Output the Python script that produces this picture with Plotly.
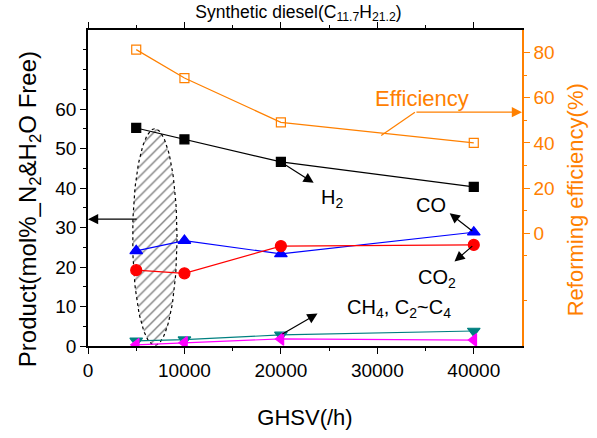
import numpy as np
import plotly.graph_objects as go

ghsv = [5000, 10000, 20000, 40000]
h2 = [55.2, 52.3, 46.6, 40.3]
co = [24.1, 26.7, 23.3, 28.8]
co2 = [19.2, 18.4, 25.3, 25.6]
ch4 = [1.3, 1.6, 2.8, 3.8]
c2c4 = [0.3, 0.8, 1.8, 1.5]
efficiency = [81.3, 68.7, 49.1, 40.0]

x_ticks = [0, 10000, 20000, 30000, 40000]
y_ticks = [0, 10, 20, 30, 40, 50, 60]
y2_ticks = [0, 20, 40, 60, 80]

FONT = "Liberation Sans, Arial, sans-serif"
ORANGE = "#FF8000"

fig = go.Figure()

# hatched ellipse (annotation region)
cx, cy, rx, ry = 6930, 27.6, 2300, 27.4
t = np.linspace(0, 2 * np.pi, 120)
fig.add_trace(go.Scatter(
    x=cx + rx * np.cos(t), y=cy + ry * np.sin(t), mode="lines",
    fill="toself", fillcolor="white",
    fillpattern=dict(shape="/", fgcolor="black", bgcolor="white", size=7, solidity=0.2),
    line=dict(color="black", width=1.2, dash="dot"), hoverinfo="skip", showlegend=False))

def series(y, color, symbol, size=10, yaxis="y", fill=None):
    fig.add_trace(go.Scatter(
        x=ghsv, y=y, mode="lines+markers", yaxis=yaxis, showlegend=False,
        line=dict(color=color, width=1.2),
        marker=dict(symbol=symbol, size=size, color=fill or color,
                    line=dict(color=color, width=1.2))))

series(h2, "black", "square", 9)
series(co, "#0000FF", "triangle-up", 11)
series(co2, "#FF0000", "circle", 11)
series(ch4, "#008080", "triangle-down", 11)
series(c2c4, "#FF00FF", "triangle-left", 11)
series(efficiency, ORANGE, "square-open", 9, yaxis="y2")

def arrow(x, y, ax, ay, color="black"):
    fig.add_annotation(x=x, y=y, ax=ax, ay=ay, xref="x", yref="y", axref="x", ayref="y",
                       text="", showarrow=True, arrowhead=2, arrowsize=1.7,
                       arrowwidth=1.2, arrowcolor=color)

def label(x, y, text, color="black", size=20):
    fig.add_annotation(x=x, y=y, xref="x", yref="y", text=text, showarrow=False,
                       font=dict(family=FONT, size=size, color=color))

arrow(23400, 41.3, 20000, 46.6)
label(25300, 37.4, "H<sub>2</sub>")
arrow(37500, 33.6, 40000, 28.8)
label(35600, 35.8, "CO")
arrow(38000, 21.4, 40000, 25.6)
label(36200, 17.0, "CO<sub>2</sub>")
arrow(23800, 8.2, 20000, 2.8)
label(32200, 9.6, "CH<sub>4</sub>, C<sub>2</sub>~C<sub>4</sub>")
arrow(0, 32.1, 5200, 32.1)
label(34600, 62.6, "Efficiency", color=ORANGE, size=22)
fig.add_shape(type="line", x0=30400, y0=53.3, x1=33900, y1=59.2, xref="x", yref="y",
              line=dict(color=ORANGE, width=1.2))
arrow(45000, 59.2, 33900, 59.2, color=ORANGE)

fig.add_annotation(x=-0.136, y=0.433, xref="paper", yref="paper", textangle=-90,
                   xanchor="center", yanchor="middle",
                   text="Product(mol%_N<sub>2</sub>&H<sub>2</sub>O Free)", showarrow=False,
                   font=dict(family=FONT, size=24, color="black"))
fig.add_annotation(x=1.122, y=0.464, xref="paper", yref="paper", textangle=-90,
                   xanchor="center", yanchor="middle",
                   text="Reforming efficiency(%)", showarrow=False,
                   font=dict(family=FONT, size=22, color=ORANGE))

fig.update_layout(
    width=597, height=438, margin=dict(l=88, r=75, t=30, b=87),
    paper_bgcolor="white", plot_bgcolor="white",
    font=dict(family=FONT, color="black"),
    title=dict(text="Synthetic diesel(C<sub>11.7</sub>H<sub>21.2</sub>)", x=0.5, xanchor="center",
               y=0.988, yanchor="top", font=dict(family=FONT, size=17.5)),
    xaxis=dict(range=[0, 45000], tickvals=x_ticks, ticktext=[str(v) for v in x_ticks],
               showgrid=False, zeroline=False, showline=True, linecolor="black", linewidth=2,
               mirror="ticks", ticks="outside", ticklen=6, tickwidth=1.2, tickcolor="black",
               minor=dict(tickvals=[5000, 15000, 25000, 35000], ticklen=3, ticks="outside",
                          tickcolor="black", tickwidth=1.2),
               tickfont=dict(family=FONT, size=19),
               title=dict(text="GHSV(/h)", font=dict(family=FONT, size=22), standoff=30)),
    yaxis=dict(range=[0, 80], tickvals=y_ticks, ticktext=[str(v) for v in y_ticks],
               showgrid=False, zeroline=False, showline=True, linecolor="black", linewidth=1.5,
               ticks="outside", ticklen=6, tickwidth=1.2, tickcolor="black",
               minor=dict(tickvals=[5, 15, 25, 35, 45, 55, 65, 70, 75], ticklen=3,
                          ticks="outside", tickcolor="black", tickwidth=1.2),
               tickfont=dict(family=FONT, size=19)),
    yaxis2=dict(range=[-50, 90], overlaying="y", side="right", tickvals=y2_ticks,
                ticktext=[str(v) for v in y2_ticks],
                showgrid=False, zeroline=False, showline=True, linecolor=ORANGE, linewidth=1.5,
                ticks="outside", ticklen=6, tickwidth=1.2, tickcolor=ORANGE,
                minor=dict(tickvals=[-30, -10, 10, 30, 50, 70], ticklen=3, ticks="outside",
                           tickcolor=ORANGE, tickwidth=1.2),
                tickfont=dict(family=FONT, size=19, color=ORANGE)),
)

fig.write_html("out.html")
